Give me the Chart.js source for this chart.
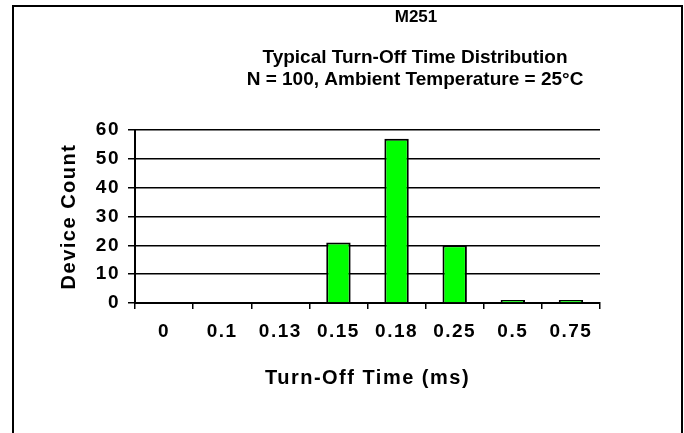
<!DOCTYPE html>
<html>
<head>
<meta charset="utf-8">
<script src="https://cdn.jsdelivr.net/npm/chart.js@4.4.0/dist/chart.umd.min.js"></script>
<style>
  html, body { margin: 0; padding: 0; background: #fff; }
  #wrap { position: relative; width: 684px; height: 433px; }
  #frame { position: absolute; left: 12px; top: 5px; width: 671px; height: 440px;
           border: 2px solid #000; border-bottom: none; box-sizing: border-box; }
</style>
</head>
<body>
<div id="wrap">
  <div id="frame"></div>
  <canvas id="chart" width="684" height="433"></canvas>
</div>
<script>
// values
const categories = ['0', '0.1', '0.13', '0.15', '0.18', '0.25', '0.5', '0.75'];
const deviceCount = [0, 0, 0, 21, 57, 20, 1, 1];
const titleLines = ['M251', 'Typical Turn-Off Time Distribution', 'N = 100, Ambient Temperature = 25°C'];
const xTitle = 'Turn-Off Time (ms)';
const yTitle = 'Device Count';

const FONT = '"Liberation Sans", Arial, sans-serif';

// the axis text in the original is spaced out a little
const spacingPlugin = {
  id: 'spacing',
  beforeLayout(chart) { chart.ctx.letterSpacing = '1.5px'; },
  beforeDraw(chart) { chart.ctx.letterSpacing = '1.5px'; }
};

// titles are drawn off-centre in the original, so place them by hand
const titlePlugin = {
  id: 'titles',
  afterDraw(chart) {
    const ctx = chart.ctx;
    ctx.save();
    ctx.letterSpacing = '0px';
    ctx.fillStyle = '#000';
    ctx.textAlign = 'center';
    ctx.textBaseline = 'middle';
    ctx.font = 'bold 17px ' + FONT;
    ctx.fillText(titleLines[0], 416, 17);
    ctx.font = 'bold 19px ' + FONT;
    ctx.fillText(titleLines[1], 415, 58);
    ctx.fillText(titleLines[2], 415, 80);
    ctx.restore();
  }
};

new Chart(document.getElementById('chart'), {
  type: 'bar',
  data: {
    labels: categories,
    datasets: [{
      data: deviceCount,
      backgroundColor: '#00ff00',
      borderColor: '#000',
      borderWidth: 2,
      categoryPercentage: 1,
      barPercentage: 0.42
    }]
  },
  options: {
    responsive: false,
    animation: false,
    layout: { padding: { top: 130, right: 84, bottom: 0, left: 0 } },
    plugins: { legend: { display: false }, tooltip: { enabled: false } },
    scales: {
      x: {
        afterFit(scale) { scale.height = 130; },
        grid: { drawOnChartArea: false, drawTicks: true, tickLength: 6, color: '#000', lineWidth: 1.5 },
        border: { display: true, color: '#000', width: 2 },
        ticks: { color: '#000', font: { family: FONT, size: 19, weight: 'bold' }, padding: 11, maxRotation: 0 },
        title: { display: true, text: xTitle, color: '#000',
                 font: { family: FONT, size: 20, weight: 'bold' }, padding: { top: 0, bottom: 43 } }
      },
      y: {
        min: 0, max: 60,
        afterFit(scale) { scale.width = 135; },
        grid: { color: '#000', lineWidth: 1.5, drawTicks: true, tickLength: 7, tickColor: '#000' },
        border: { display: true, color: '#000', width: 2 },
        ticks: { stepSize: 10, color: '#000', font: { family: FONT, size: 19, weight: 'bold' }, padding: 8 },
        title: { display: true, text: yTitle, color: '#000',
                 font: { family: FONT, size: 20, weight: 'bold' }, padding: { top: 57, bottom: 0 } }
      }
    }
  },
  plugins: [spacingPlugin, titlePlugin]
});
</script>
</body>
</html>
